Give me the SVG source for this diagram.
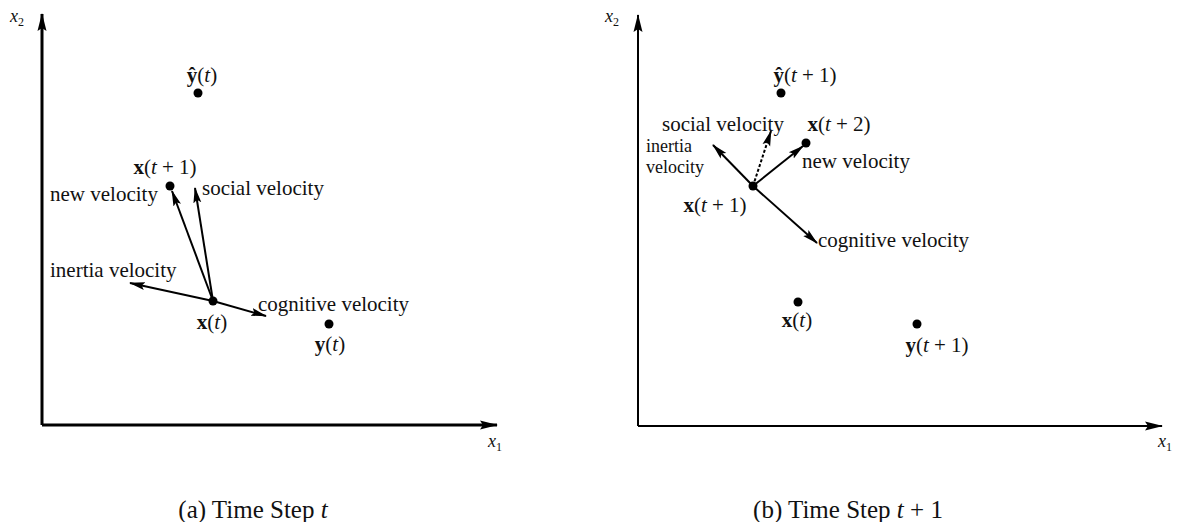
<svg xmlns="http://www.w3.org/2000/svg" width="1187" height="522" viewBox="0 0 1187 522">
<style>
text{font-family:"Liberation Serif","DejaVu Serif",serif;font-size:21px;fill:#111}
.b{font-weight:bold}
.i{font-style:italic}
.ax{font-size:18px}
.sm{font-size:18px}
.axisA{stroke:#000;stroke-width:3;fill:none}
.axisB{stroke:#000;stroke-width:2;fill:none}
.vec{stroke:#000;stroke-width:2;fill:none}
.dash{stroke-dasharray:3 2}
.dot{fill:#000}
.cap{font-size:25px}
</style>
<defs>
<marker id="ah" markerUnits="userSpaceOnUse" markerWidth="16" markerHeight="10" viewBox="0 0 16 10" refX="15" refY="5" orient="auto">
<path d="M0,1 L16,5 L0,9 L3,5 Z" fill="#000"/>
</marker>
<marker id="axh" markerUnits="userSpaceOnUse" markerWidth="18" markerHeight="10" viewBox="0 0 18 10" refX="17" refY="5" orient="auto">
<path d="M0,0.5 L18,5 L0,9.5 L3,5 Z" fill="#000"/>
</marker>
</defs>

<g id="connectors">
<line class="axisA" x1="42" y1="425" x2="42" y2="14" marker-end="url(#axh)"/>
<line class="axisA" x1="42" y1="425" x2="497" y2="425" marker-end="url(#axh)"/>
<line class="vec" x1="213" y1="301" x2="172" y2="191" marker-end="url(#ah)"/>
<line class="vec" x1="213" y1="301" x2="195" y2="188" marker-end="url(#ah)"/>
<line class="vec" x1="213" y1="301" x2="130" y2="283" marker-end="url(#ah)"/>
<line class="vec" x1="213" y1="301" x2="266" y2="316" marker-end="url(#ah)"/>

<line class="axisB" x1="638" y1="426" x2="638" y2="15" marker-end="url(#axh)"/>
<line class="axisB" x1="638" y1="426" x2="1162" y2="426" marker-end="url(#axh)"/>
<line class="vec" x1="753" y1="186" x2="713" y2="145" marker-end="url(#ah)"/>
<line class="vec dash" x1="753" y1="186" x2="771" y2="131" marker-end="url(#ah)"/>
<line class="vec" x1="753" y1="186" x2="803" y2="146" marker-end="url(#ah)"/>
<line class="vec" x1="753" y1="186" x2="817" y2="243" marker-end="url(#ah)"/>
</g>

<g id="panel-a">
<g id="a-x2"><text x="10" y="22" class="i ax">x<tspan font-size="12" font-style="normal" dy="4">2</tspan></text></g>
<g id="a-x1"><text x="488" y="447" class="i ax">x<tspan font-size="12" font-style="normal" dy="4">1</tspan></text></g>
<g id="a-yhat"><circle class="dot" cx="198" cy="93" r="4.5"/><text x="202" y="82" text-anchor="middle"><tspan class="b">ŷ</tspan>(<tspan class="i">t</tspan>)</text></g>
<g id="a-xt1"><circle class="dot" cx="170" cy="186" r="4.5"/><text x="165" y="174" text-anchor="middle"><tspan class="b">x</tspan>(<tspan class="i">t</tspan> + 1)</text></g>
<g id="a-new"><text x="50" y="201">new velocity</text></g>
<g id="a-social"><text x="202" y="195">social velocity</text></g>
<g id="a-inertia"><text x="50" y="277">inertia velocity</text></g>
<g id="a-cog"><text x="258" y="311">cognitive velocity</text></g>
<g id="a-xt"><circle class="dot" cx="213" cy="301" r="4.5"/><text x="212" y="329" text-anchor="middle"><tspan class="b">x</tspan>(<tspan class="i">t</tspan>)</text></g>
<g id="a-yt"><circle class="dot" cx="329" cy="324" r="4.5"/><text x="330" y="351" text-anchor="middle"><tspan class="b">y</tspan>(<tspan class="i">t</tspan>)</text></g>
<g id="a-caption"><text x="253" y="518" text-anchor="middle" class="cap">(a) Time Step <tspan class="i">t</tspan></text></g>
</g>

<g id="panel-b">
<g id="b-x2"><text x="605" y="22" class="i ax">x<tspan font-size="12" font-style="normal" dy="4">2</tspan></text></g>
<g id="b-x1"><text x="1158" y="447" class="i ax">x<tspan font-size="12" font-style="normal" dy="4">1</tspan></text></g>
<g id="b-yhat"><circle class="dot" cx="781" cy="93" r="4.5"/><text x="805" y="82" text-anchor="middle"><tspan class="b">ŷ</tspan>(<tspan class="i">t</tspan> + 1)</text></g>
<g id="b-social"><text x="662" y="131">social velocity</text></g>
<g id="b-xt2"><circle class="dot" cx="806" cy="143" r="4.5"/><text x="839" y="131" text-anchor="middle"><tspan class="b">x</tspan>(<tspan class="i">t</tspan> + 2)</text></g>
<g id="b-new"><text x="802" y="168">new velocity</text></g>
<g id="b-inertia"><text x="646" y="152" class="sm">inertia</text><text x="646" y="173" class="sm">velocity</text></g>
<g id="b-xt1"><circle class="dot" cx="753" cy="186" r="4.5"/><text x="715" y="212" text-anchor="middle"><tspan class="b">x</tspan>(<tspan class="i">t</tspan> + 1)</text></g>
<g id="b-cog"><text x="818" y="247">cognitive velocity</text></g>
<g id="b-xt"><circle class="dot" cx="798" cy="302" r="4.5"/><text x="797" y="327" text-anchor="middle"><tspan class="b">x</tspan>(<tspan class="i">t</tspan>)</text></g>
<g id="b-yt1"><circle class="dot" cx="917" cy="324" r="4.5"/><text x="937" y="352" text-anchor="middle"><tspan class="b">y</tspan>(<tspan class="i">t</tspan> + 1)</text></g>
<g id="b-caption"><text x="848" y="518" text-anchor="middle" class="cap">(b) Time Step <tspan class="i">t</tspan> + 1</text></g>
</g>
</svg>
